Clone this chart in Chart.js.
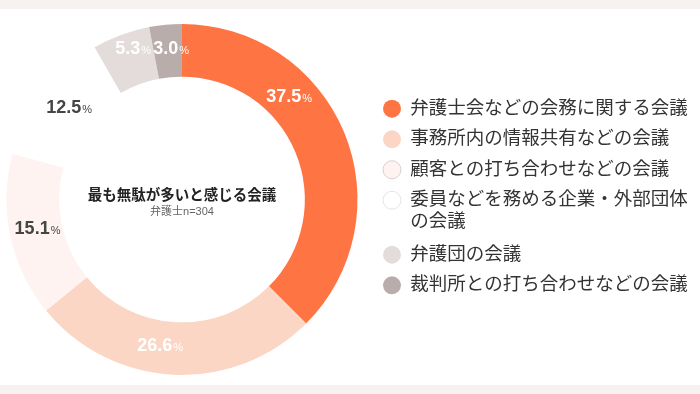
<!DOCTYPE html>
<html>
<head>
<meta charset="utf-8">
<script src="https://cdn.jsdelivr.net/npm/chart.js@4/dist/chart.umd.min.js"></script>
<style>
  html, body { margin: 0; padding: 0; }
  body { width: 700px; height: 394px; background: #f7f1f0; overflow: hidden; position: relative; }
  #wrap { position: absolute; left: 0; top: 9px; width: 700px; height: 376px; background: #ffffff; }
</style>
</head>
<body>
<div id="wrap"><canvas id="c" width="700" height="376"></canvas></div>
<script>
const categories = [
  '弁護士会などの会務に関する会議',
  '事務所内の情報共有などの会議',
  '顧客との打ち合わせなどの会議',
  ['委員などを務める企業・外部団体', 'の会議'],
  '弁護団の会議',
  '裁判所との打ち合わせなどの会議'
];
const values = [37.5, 26.6, 15.1, 12.5, 5.3, 3.0];
const colors = ['#ff7443', '#fbd6c5', '#fef3f0', '#ffffff', '#e4dcda', '#b8adab'];
const centerTitle = '最も無駄が多いと感じる会議';
const centerSub = '弁護士n=304';

const FONT = '"Liberation Sans", "Noto Sans CJK JP", sans-serif';

// place the doughnut area (layout only)
const areaPlugin = {
  id: 'areaFix',
  afterLayout(chart) {
    const cx = 182, cy = 190.5, half = 175.5;
    const a = chart.chartArea;
    a.left = cx - half; a.right = cx + half;
    a.top = cy - half; a.bottom = cy + half;
    a.width = 2 * half; a.height = 2 * half;
  }
};

const labelPlugin = {
  id: 'pctLabels',
  afterDatasetsDraw(chart, args, opts) {
    const ctx = chart.ctx;
    const meta = chart.getDatasetMeta(0);
    meta.data.forEach((arc, i) => {
      const p = arc.getProps(['x', 'y', 'startAngle', 'endAngle', 'innerRadius', 'outerRadius'], true);
      const f = opts.fractions[i];
      const a = p.startAngle + (p.endAngle - p.startAngle) * f;
      const r = (p.innerRadius + p.outerRadius) / 2 + opts.radiusShift[i];
      const cx = p.x + Math.cos(a) * r;
      const cy = p.y + Math.sin(a) * r;
      const num = values[i].toFixed(1);
      ctx.save();
      ctx.fillStyle = opts.colors[i];
      ctx.textBaseline = 'alphabetic';
      ctx.textAlign = 'left';
      ctx.font = 'bold 18px ' + FONT;
      const w1 = ctx.measureText(num).width;
      ctx.font = '11px ' + FONT;
      const w2 = ctx.measureText('%').width;
      const x0 = cx - (w1 + w2 + 1) / 2;
      const base = cy + 6.5;
      ctx.font = 'bold 18px ' + FONT;
      ctx.fillText(num, x0, base);
      ctx.font = '11px ' + FONT;
      ctx.fillText('%', x0 + w1 + 1, base);
      ctx.restore();
    });
  }
};

const centerPlugin = {
  id: 'centerText',
  afterDraw(chart) {
    const ctx = chart.ctx;
    const arc = chart.getDatasetMeta(0).data[0];
    const x = arc.x, y = arc.y;
    ctx.save();
    ctx.textAlign = 'center';
    ctx.textBaseline = 'middle';
    ctx.fillStyle = '#222222';
    ctx.font = 'bold 14.5px ' + FONT;
    ctx.fillText(centerTitle, x, y - 3.5);
    ctx.fillStyle = '#666666';
    ctx.font = '11px ' + FONT;
    ctx.fillText(centerSub, x, y + 12);
    ctx.restore();
  }
};

const defaultGen = Chart.overrides.doughnut.plugins.legend.labels.generateLabels;
const legendStrokes = [null, null, '#d8cfcd', '#e6e2e1', null, null];

const chart = new Chart(document.getElementById('c'), {
  type: 'doughnut',
  data: {
    labels: categories,
    datasets: [{
      data: values,
      backgroundColor: colors,
      borderWidth: 0
    }]
  },
  options: {
    responsive: false,
    animation: false,
    cutout: '70%',
    layout: { padding: { left: 0, right: 0, top: 0, bottom: 0 } },
    plugins: {
      tooltip: { enabled: false },
      legend: {
        position: 'right',
        labels: {
          usePointStyle: true,
          pointStyle: 'circle',
          boxWidth: 18,
          boxHeight: 12.7,
          padding: 12,
          color: '#333333',
          font: { size: 18.5, family: FONT, lineHeight: 1.15 },
          generateLabels(chart) {
            const items = defaultGen(chart);
            items.forEach((it, i) => {
              if (legendStrokes[i]) {
                it.strokeStyle = legendStrokes[i];
                it.lineWidth = 1;
              } else {
                it.strokeStyle = it.fillStyle;
                it.lineWidth = 0;
              }
            });
            return items;
          }
        }
      },
      pctLabels: {
        fractions: [0.34, 0.56, 0.52, 0.54, 0.63, 0.62],
        radiusShift: [0, -3, -2, -3, 10, 3],
        colors: ['#ffffff', '#ffffff', '#454545', '#454545', '#ffffff', '#ffffff']
      }
    }
  },
  plugins: [areaPlugin, labelPlugin, centerPlugin]
});

const L = chart.legend.width;
chart.options.layout.padding.right = 700 - 371 - L;
chart.update('none');
</script>
</body>
</html>
